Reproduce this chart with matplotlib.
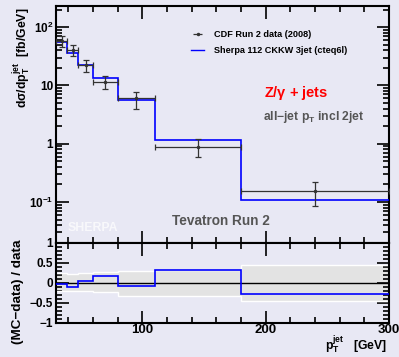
import matplotlib
matplotlib.use('Agg')
import matplotlib.pyplot as plt
import numpy as np
from matplotlib.ticker import MultipleLocator, LogLocator, NullFormatter
from matplotlib.lines import Line2D

plt.rcParams['font.family'] = ['Liberation Sans', 'DejaVu Sans']
plt.rcParams['font.weight'] = 'bold'
plt.rcParams['mathtext.fontset'] = 'custom'
plt.rcParams['mathtext.rm'] = 'Liberation Sans:bold'
plt.rcParams['mathtext.it'] = 'Liberation Sans:bold'
plt.rcParams['mathtext.bf'] = 'Liberation Sans:bold'
plt.rcParams['mathtext.default'] = 'rm'

# bins in jet pT [GeV]
edges = [30, 39, 48, 60, 80, 110, 180, 300]
# CDF Run 2 data (2008)
data = [57.0, 40.0, 22.0, 11.6, 6.0, 0.89, 0.152]
data_up = [13.1, 8.8, 5.5, 3.1, 1.8, 0.29, 0.068]
data_dn = [12.0, 8.0, 4.8, 2.8, 2.0, 0.29, 0.068]
# Sherpa 112 CKKW 3jet (cteq6l)
mc = [54.7, 36.0, 22.7, 13.6, 5.55, 1.166, 0.108]

edges = np.array(edges, dtype=float)
data = np.array(data)
mc = np.array(mc)
centers = 0.5 * (edges[1:] + edges[:-1])
halfw = 0.5 * (edges[1:] - edges[:-1])

bg = '#e8e8f4'
fig = plt.figure(figsize=(3.99, 3.57), dpi=100, facecolor=bg)
ax = fig.add_axes([0.1404, 0.3202, 0.8346, 0.6628], facecolor=bg)
rax = fig.add_axes([0.1404, 0.0961, 0.8346, 0.2241], facecolor=bg)

# main panel
ax.stairs(mc, edges, color='#0000ff', lw=1.2, baseline=None, zorder=3)
ax.errorbar(centers, data, xerr=halfw, yerr=[data_dn, data_up], fmt='o', ms=1.5,
            color='#333333', elinewidth=0.9, capsize=2, capthick=0.9, zorder=4)
ax.set_yscale('log')
ax.set_xlim(30, 300)
ax.set_ylim(0.02, 230)
ax.set_yticks([0.1, 1, 10, 100])
ax.set_yticklabels([r'$10^{-1}$', '1', '10', r'$10^{2}$'])
ax.yaxis.set_minor_locator(LogLocator(base=10, subs=np.arange(2, 10)))
ax.yaxis.set_minor_formatter(NullFormatter())
ax.xaxis.set_major_locator(MultipleLocator(100))
ax.xaxis.set_minor_locator(MultipleLocator(20))
ax.tick_params(labelbottom=False)

# legend
h_data = ax.errorbar([], [], xerr=[], fmt='o', ms=1.5, color='#333333',
                     elinewidth=0.9, capsize=2)
h_mc = Line2D([], [], color='#0000ff', lw=1.0)
ax.legend([h_data, h_mc], ['CDF Run 2 data (2008)', 'Sherpa 112 CKKW 3jet (cteq6l)'],
          loc='upper left', bbox_to_anchor=(0.385, 0.925), frameon=False,
          fontsize=6.6, handlelength=1.5, handletextpad=1.0, labelspacing=0.75,
          borderpad=0.2)

ax.text(0.624, 0.617, r'Z/$\gamma$ + jets', transform=ax.transAxes, color='#ff0000',
        fontsize=10.5, fontweight='bold', va='baseline')
ax.text(0.621, 0.518, r'all$-$jet p$_\mathrm{T}$ incl 2jet', transform=ax.transAxes,
        color='#555555', fontsize=8.7, fontweight='bold', va='baseline')
ax.text(0.348, 0.076, 'Tevatron Run 2', transform=ax.transAxes, color='#555555',
        fontsize=9.8, fontweight='bold', va='baseline')
ax.text(0.036, 0.051, 'SHERPA', transform=ax.transAxes, color='white', alpha=0.7,
        fontsize=8.8, fontweight='bold', va='baseline')

# ratio panel
rel_up = np.array(data_up) / data
rel_dn = np.array(data_dn) / data
ratio = mc / data - 1
rax.fill_between(edges, np.append(-rel_dn, -rel_dn[-1]), np.append(rel_up, rel_up[-1]),
                 step='post', color='#e3e3e3', lw=0, zorder=1)
rax.stairs(rel_up, edges, color='white', lw=1.0, baseline=None, zorder=2)
rax.stairs(-rel_dn, edges, color='white', lw=1.0, baseline=None, zorder=2)
rax.axhline(0, color='black', lw=1.0, zorder=3)
rax.stairs(ratio, edges, color='#0000ff', lw=1.2, baseline=None, zorder=4)
rax.set_xlim(30, 300)
rax.set_ylim(-1, 1)
rax.set_yticks([-1, -0.5, 0, 0.5, 1])
rax.set_yticklabels([u'\u22121', u'\u22120.5', '0', '0.5', '1'])
rax.yaxis.set_minor_locator(MultipleLocator(0.1))
rax.xaxis.set_major_locator(MultipleLocator(100))
rax.xaxis.set_minor_locator(MultipleLocator(20))

for a in (ax, rax):
    for s in a.spines.values():
        s.set_linewidth(1.5)
    a.tick_params(which='both', direction='in', top=True, right=True, width=1.2)
    a.tick_params(which='major', length=9)
    a.tick_params(which='minor', length=4.5)
    a.tick_params(axis='y', labelsize=8.5, pad=2)
    a.tick_params(axis='x', labelsize=9.5, pad=1.0)
    for lab in a.get_xticklabels() + a.get_yticklabels():
        lab.set_fontweight('bold')

fig.text(0.055, 0.98, r'd$\sigma$/dp$_\mathrm{T}^\mathrm{jet}$  [fb/GeV]', rotation=90,
         ha='center', va='top', fontsize=8.8, fontweight='bold')
fig.text(0.045, 0.183, u'(MC\u2212data) / data', rotation=90, ha='center', va='center',
         fontsize=9.7, fontweight='bold')
fig.text(0.97, 0.019, r'p$_\mathrm{T}^\mathrm{jet}$   [GeV]', ha='right', va='baseline',
         fontsize=8.8, fontweight='bold')

fig.savefig('out.png', dpi=100, facecolor=bg)
